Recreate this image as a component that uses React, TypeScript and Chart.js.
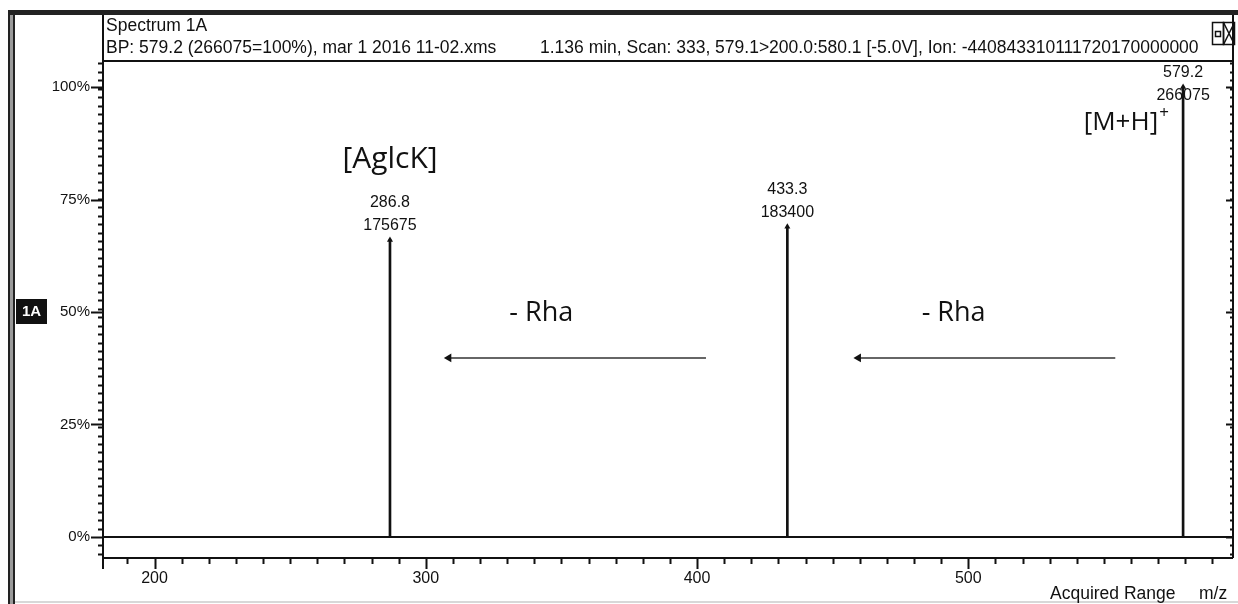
import React, { useEffect, useRef } from "react";
import { Chart, registerables } from "chart.js";

Chart.register(...registerables);

// ---- data ----
const peakMz = [286.8, 433.3, 579.2];
const peakCounts = [175675, 183400, 266075];
const basePeakCounts = 266075;
const peakMzLabels = ["286.8", "433.3", "579.2"];
const peakCountLabels = ["175675", "183400", "266075"];

const xMin = 181;
const xMax = 597.6;
const xTicks = [200, 300, 400, 500];
const xMinorStep = 10;

const yMin = -4.67;
const yMax = 105.78;
const yTicks = [0, 25, 50, 75, 100];
const yTickLabels = ["0%", "25%", "50%", "75%", "100%"];
const yMinorStepCounts = 5000;

const arrowFromMz = [403.3, 554.2];
const arrowToMz = [308.5, 459.5];
const arrowLevel = [39.8, 39.8];

const lossLabels = ["- Rha", "- Rha"];
const lossLabelMz = [342.6, 494.6];
const lossLabelLevel = [49.7, 49.7];

const ionLabels = ["[AglcK]", "[M+H]"];
const ionLabelMz = [286.8, 570];
const ionLabelLevel = [83.8, 92.2];

const headerTitle = "Spectrum 1A";
const headerLineA = "BP: 579.2 (266075=100%), mar 1 2016 11-02.xms";
const headerLineB = "1.136 min, Scan: 333, 579.1>200.0:580.1 [-5.0V], Ion: -440843310111720170000000";

const SANS = "'Liberation Sans', Arial, sans-serif";
const ANNO = "'Open Sans', Lato, sans-serif";

const framePlugin = {
  id: "msFrame",
  beforeDatasetsDraw(chart: any) {
    const ctx = chart.ctx as CanvasRenderingContext2D;
    const { left, right, top, bottom } = chart.chartArea;
    const xs = chart.scales.x;
    const ys = chart.scales.y;
    const W = chart.width;
    const H = chart.height;
    ctx.save();

    // outer window frame
    ctx.fillStyle = "#222";
    ctx.fillRect(8, 10, W - 8, 5);
    ctx.fillRect(8, 10, 7, H - 10);
    ctx.fillStyle = "#9a9a9a";
    ctx.fillRect(10, 15, 3, H - 15);
    ctx.fillStyle = "#d8d8d8";
    ctx.fillRect(15, H - 3, W - 15, 2);

    ctx.strokeStyle = "#111";
    ctx.lineWidth = 2;
    // header box + plot frame
    ctx.beginPath();
    ctx.moveTo(left, 15);
    ctx.lineTo(left, bottom + 11);
    ctx.moveTo(left, top);
    ctx.lineTo(right, top);
    ctx.moveTo(right, 15);
    ctx.lineTo(right, bottom);
    ctx.moveTo(left, bottom);
    ctx.lineTo(right, bottom);
    ctx.stroke();

    // zero baseline
    const y0 = ys.getPixelForValue(0);
    ctx.beginPath();
    ctx.moveTo(left, y0);
    ctx.lineTo(right, y0);
    ctx.stroke();

    // y ticks
    const stepPct = (yMinorStepCounts / basePeakCounts) * 100;
    ctx.beginPath();
    for (let k = Math.ceil(yMin / stepPct); k * stepPct <= yMax; k++) {
      const y = Math.round(ys.getPixelForValue(k * stepPct)) + 0.5;
      ctx.moveTo(left - 5, y);
      ctx.lineTo(left, y);
      ctx.moveTo(right, y);
      ctx.lineTo(right - 3, y);
    }
    for (const v of yTicks) {
      const y = Math.round(ys.getPixelForValue(v)) + 0.5;
      ctx.moveTo(left - 12, y);
      ctx.lineTo(left, y);
      ctx.moveTo(right, y);
      ctx.lineTo(right - 7, y);
    }
    ctx.stroke();

    // x ticks
    ctx.beginPath();
    for (let v = Math.ceil(xMin / xMinorStep) * xMinorStep; v <= xMax; v += xMinorStep) {
      const x = Math.round(xs.getPixelForValue(v)) + 0.5;
      const major = xTicks.includes(v);
      ctx.moveTo(x, bottom);
      ctx.lineTo(x, bottom + (major ? 11 : 6));
    }
    ctx.stroke();

    // labels
    ctx.fillStyle = "#111";
    ctx.font = `15px ${SANS}`;
    ctx.textAlign = "right";
    ctx.textBaseline = "middle";
    yTicks.forEach((v, i) => {
      ctx.fillText(yTickLabels[i], left - 13, ys.getPixelForValue(v));
    });
    ctx.textAlign = "center";
    ctx.font = `16px ${SANS}`;
    xTicks.forEach((v) => {
      ctx.fillText(String(v), xs.getPixelForValue(v), bottom + 21);
    });
    ctx.textAlign = "left";
    ctx.font = `17.5px ${SANS}`;
    ctx.fillText("Acquired Range", 1050, 594);
    ctx.fillText("m/z", 1199, 594);

    // header text
    ctx.font = `17.5px ${SANS}`;
    ctx.fillText(headerTitle, left + 3, 26);
    ctx.fillText(headerLineA, left + 3, 48);
    ctx.fillText(headerLineB, 540, 48);

    // window icons
    ctx.lineWidth = 1.5;
    ctx.strokeRect(1212.5, 22.5, 11, 22);
    ctx.strokeRect(1223.5, 22.5, 11, 22);
    ctx.strokeRect(1215.5, 31.5, 5, 5);
    ctx.beginPath();
    ctx.moveTo(1223.5, 22.5);
    ctx.lineTo(1234.5, 44.5);
    ctx.moveTo(1234.5, 22.5);
    ctx.lineTo(1223.5, 44.5);
    ctx.stroke();

    // trace tag
    ctx.fillStyle = "#111";
    ctx.fillRect(16, 299, 31, 25);
    ctx.fillStyle = "#fff";
    ctx.font = `bold 15px ${SANS}`;
    ctx.textAlign = "center";
    ctx.fillText("1A", 31.5, 312);

    ctx.restore();
  },
  afterDraw(chart: any) {
    const ctx = chart.ctx as CanvasRenderingContext2D;
    const { top } = chart.chartArea;
    const xs = chart.scales.x;
    const ys = chart.scales.y;
    ctx.save();
    ctx.fillStyle = "#111";
    ctx.textAlign = "center";
    ctx.textBaseline = "middle";
    ctx.font = `16px ${SANS}`;
    peakMz.forEach((m, i) => {
      const x = xs.getPixelForValue(m);
      const tip = ys.getPixelForValue((peakCounts[i] / basePeakCounts) * 100);
      const y1 = Math.max(tip - 37, top + 12);
      ctx.fillText(peakMzLabels[i], x, y1);
      ctx.fillText(peakCountLabels[i], x, y1 + 23);
    });

    ctx.font = `27px ${ANNO}`;
    lossLabels.forEach((t, i) => {
      ctx.fillText(t, xs.getPixelForValue(lossLabelMz[i]), ys.getPixelForValue(lossLabelLevel[i]));
    });

    ctx.font = `30px ${ANNO}`;
    ctx.fillText(ionLabels[0], xs.getPixelForValue(ionLabelMz[0]), ys.getPixelForValue(ionLabelLevel[0]));
    ctx.textAlign = "right";
    const mx = xs.getPixelForValue(ionLabelMz[1]);
    const my = ys.getPixelForValue(ionLabelLevel[1]);
    ctx.font = `26px ${ANNO}`;
    ctx.fillText(ionLabels[1], mx, my);
    ctx.textAlign = "left";
    ctx.font = `17px ${ANNO}`;
    ctx.fillText("+", mx + 1, my - 9);
    ctx.restore();
  },
};

export default function App() {
  const ref = useRef<HTMLCanvasElement>(null);
  useEffect(() => {
    const canvas = ref.current!;
    const pct = peakCounts.map((c) => (c / basePeakCounts) * 100);
    const peakPoints = peakMz.map((m, i) => ({ x: m, y: pct[i] }));
    const arrowSets = arrowFromMz.map((f, i) => ({
      type: "line" as const,
      data: [
        { x: arrowToMz[i], y: arrowLevel[i] },
        { x: f, y: arrowLevel[i] },
      ],
      borderColor: "#666",
      borderWidth: 2,
      pointStyle: "triangle",
      pointRotation: -90,
      pointRadius: [5, 0],
      pointBackgroundColor: "#111",
      pointBorderColor: "#111",
      pointBorderWidth: 0,
      order: 0,
    }));
    const chart = new Chart(canvas, {
      type: "bar",
      data: {
        datasets: [
          {
            type: "bar",
            data: peakPoints,
            backgroundColor: "#111",
            barThickness: 2,
            borderWidth: 0,
            order: 2,
          } as any,
          {
            type: "line",
            data: peakPoints,
            showLine: false,
            pointStyle: "triangle",
            pointRadius: 3.5,
            pointBackgroundColor: "#111",
            pointBorderColor: "#111",
            pointBorderWidth: 0,
            order: 1,
          } as any,
          ...(arrowSets as any[]),
        ],
      },
      options: {
        responsive: false,
        animation: false,
        events: [],
        layout: { padding: { left: 103, right: 3, top: 61, bottom: 46 } },
        scales: {
          x: { type: "linear", min: xMin, max: xMax, offset: false, display: false },
          y: { type: "linear", min: yMin, max: yMax, display: false },
        },
        plugins: { legend: { display: false }, tooltip: { enabled: false } },
      },
      plugins: [framePlugin],
    } as any);
    return () => chart.destroy();
  }, []);
  return (
    <div style={{ position: "absolute", left: 0, top: 0, width: 1238, height: 604, background: "#fff" }}>
      <canvas ref={ref} width={1238} height={604} style={{ display: "block" }} />
    </div>
  );
}
